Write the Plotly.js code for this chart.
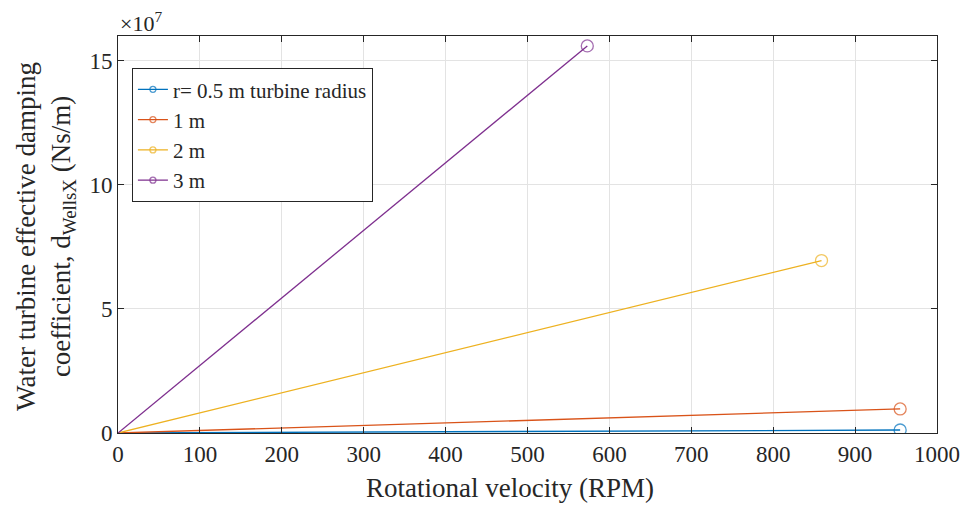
<!DOCTYPE html>
<html>
<head>
<meta charset="utf-8">
<script src="https://cdn.plot.ly/plotly-3.0.1.min.js"></script>
<style>html,body{margin:0;padding:0;background:#fff;}#chart{width:966px;height:506px;}</style>
</head>
<body>
<div id="chart"></div>
<script>
const seriesNames = ["r= 0.5 m turbine radius", "1 m", "2 m", "3 m"];
const seriesColors = ["#0072BD", "#D95319", "#EDB120", "#7E2F8E"];
const xStart = [0, 0, 0, 0];
const xEnd = [955, 955, 859, 573];
const yStart = [0, 0, 0, 0];
const yEnd = [1.2e6, 0.97e7, 6.95e7, 15.6e7];
const yTickVals = [0, 5e7, 10e7, 15e7];
const yTickText = ["0", "5", "10", "15"];
const xTickVals = [0, 100, 200, 300, 400, 500, 600, 700, 800, 900, 1000];
const xTitle = "Rotational velocity (RPM)";
const yTitle = "Water turbine effective damping<br>coefficient, d<sub>WellsX</sub> (Ns/m)";
const exponentLabel = "×10<sup>7</sup>";

const font = "'Liberation Serif', 'Times New Roman', serif";
const ink = "#262626";
const traces = seriesNames.map((n, i) => ({
  type: "scatter",
  mode: "lines+markers",
  name: n,
  x: [xStart[i], xEnd[i]],
  y: [yStart[i], yEnd[i]],
  line: {color: seriesColors[i], width: 1.3},
  marker: {symbol: "circle-open", size: [0, 12], color: seriesColors[i], line: {width: 1.3}}
}));

const layout = {
  width: 966, height: 506,
  margin: {l: 118, r: 29, t: 36, b: 73},
  paper_bgcolor: "#fff", plot_bgcolor: "#fff",
  font: {family: font, size: 22, color: ink},
  showlegend: true,
  legend: {x: 0.017, y: 0.919, xanchor: "left", yanchor: "top",
    bordercolor: ink, borderwidth: 1, bgcolor: "#fff",
    font: {family: font, size: 21, color: ink}, tracegroupgap: 0, itemwidth: 30},
  xaxis: {
    range: [0, 1000], tickvals: xTickVals, ticks: "inside", ticklen: 6, tickcolor: ink,
    showgrid: true, gridcolor: "#e3e3e3", zeroline: false,
    showline: true, linecolor: ink, linewidth: 1, mirror: "ticks",
    tickfont: {family: font, size: 23, color: ink}
  },
  yaxis: {
    range: [0, 16e7], tickvals: yTickVals, ticktext: yTickText, ticks: "inside", ticklen: 6, tickcolor: ink,
    showgrid: true, gridcolor: "#e3e3e3", zeroline: false,
    showline: true, linecolor: ink, linewidth: 1, mirror: "ticks",
    tickfont: {family: font, size: 23, color: ink}
  },
  annotations: [
    {xref: "paper", yref: "paper", x: 0, y: 1, xanchor: "left", yanchor: "bottom", yshift: -2,
     text: exponentLabel, showarrow: false, font: {family: font, size: 22, color: ink}},
    {xref: "paper", yref: "paper", x: 0.479, y: 0, xanchor: "center", yanchor: "top", yshift: -38,
     text: xTitle, showarrow: false, font: {family: font, size: 27, color: ink}},
    {xref: "paper", yref: "paper", x: 0, y: 0.494, xanchor: "center", yanchor: "middle", xshift: -72,
     text: yTitle, textangle: -90, showarrow: false, font: {family: font, size: 27, color: ink}}
  ]
};
Plotly.newPlot("chart", traces, layout, {displayModeBar: false, staticPlot: true});
</script>
</body>
</html>
